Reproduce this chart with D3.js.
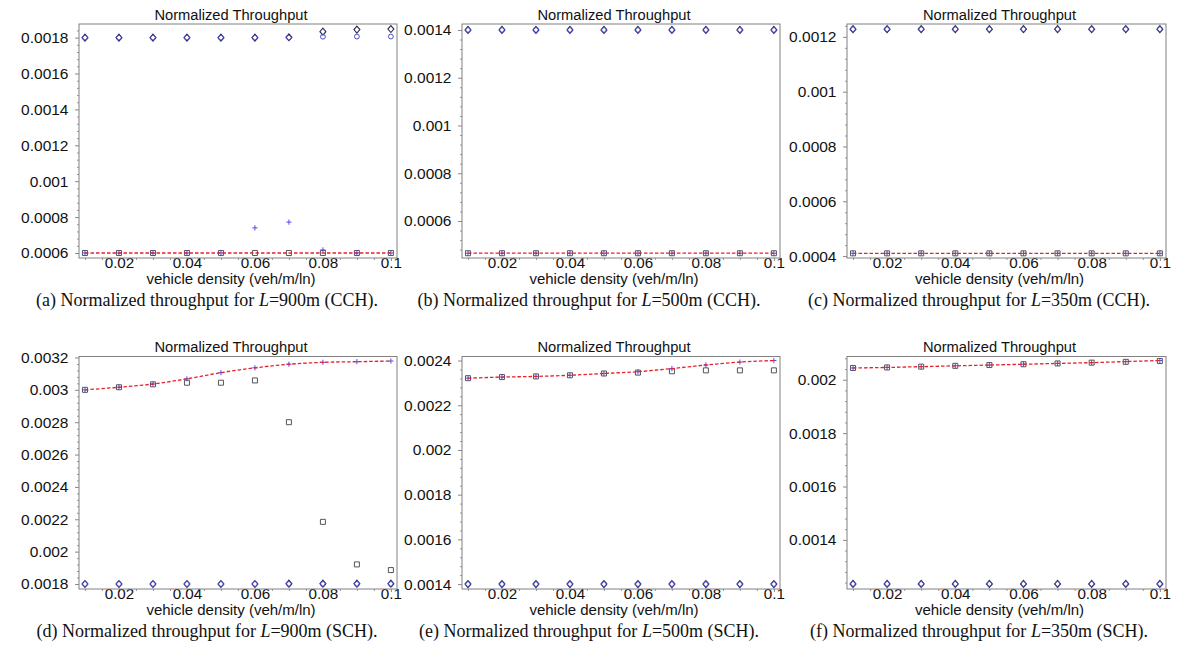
<!DOCTYPE html>
<html>
<head>
<meta charset="utf-8">
<script src="https://cdn.jsdelivr.net/npm/d3@7"></script>
<style>
  html, body { margin: 0; padding: 0; background: #fff; }
  svg { display: block; }
</style>
</head>
<body>
<svg id="chart" width="1200" height="672"></svg>
<script>
// ---------------- DATA ----------------
const density = [0.01, 0.02, 0.03, 0.04, 0.05, 0.06, 0.07, 0.08, 0.09, 0.1];
const xTicks = [0.02, 0.04, 0.06, 0.08, 0.1];

// (a) L=900m CCH
const a_simUpper = [0.0018, 0.0018, 0.0018, 0.0018, 0.0018, 0.0018, 0.001802, 0.001833, 0.001845, 0.001848];
const a_anaUpper = [0.0018, 0.0018, 0.0018, 0.0018, 0.0018, 0.0018, 0.0018, 0.001805, 0.001806, 0.001806];
const a_simLower = [0.0006, 0.0006, 0.0006, 0.0006, 0.0006, 0.0006, 0.0006, 0.0006, 0.0006, 0.0006];
const a_anaLower = [0.0006, 0.0006, 0.0006, 0.0006, 0.0006, 0.00074, 0.000772, 0.000617, 0.0006, 0.0006];
const a_model    = [0.0006, 0.0006, 0.0006, 0.0006, 0.0006, 0.0006, 0.0006, 0.0006, 0.0006, 0.0006];
const a_yTicks = [0.0006, 0.0008, 0.001, 0.0012, 0.0014, 0.0016, 0.0018];

// (b) L=500m CCH
const b_simUpper = [0.0014, 0.0014, 0.0014, 0.0014, 0.0014, 0.0014, 0.0014, 0.0014, 0.0014, 0.0014];
const b_anaUpper = [0.0014, 0.0014, 0.0014, 0.0014, 0.0014, 0.0014, 0.0014, 0.0014, 0.0014, 0.0014];
const b_simLower = [0.000465, 0.000465, 0.000465, 0.000465, 0.000465, 0.000465, 0.000465, 0.000465, 0.000465, 0.000465];
const b_anaLower = [0.000465, 0.000465, 0.000465, 0.000465, 0.000465, 0.000465, 0.000465, 0.000465, 0.000465, 0.000465];
const b_model    = [0.000465, 0.000465, 0.000465, 0.000465, 0.000465, 0.000465, 0.000465, 0.000465, 0.000465, 0.000465];
const b_yTicks = [0.0006, 0.0008, 0.001, 0.0012, 0.0014];

// (c) L=350m CCH
const c_simUpper = [0.001228, 0.001228, 0.001228, 0.001228, 0.001228, 0.001228, 0.001228, 0.001228, 0.001228, 0.001228];
const c_anaUpper = [0.001228, 0.001228, 0.001228, 0.001228, 0.001228, 0.001228, 0.001228, 0.001228, 0.001228, 0.001228];
const c_simLower = [0.00041, 0.00041, 0.00041, 0.00041, 0.00041, 0.00041, 0.00041, 0.00041, 0.00041, 0.00041];
const c_anaLower = [0.00041, 0.00041, 0.00041, 0.00041, 0.00041, 0.00041, 0.00041, 0.00041, 0.00041, 0.00041];
const c_model    = [0.00041, 0.00041, 0.00041, 0.00041, 0.00041, 0.00041, 0.00041, 0.00041, 0.00041, 0.00041];
const c_yTicks = [0.0004, 0.0006, 0.0008, 0.001, 0.0012];

// (d) L=900m SCH
const d_simUpper = [0.003, 0.003016, 0.003034, 0.003044, 0.003044, 0.003058, 0.0028, 0.002184, 0.001921, 0.001886];
const d_anaUpper = [0.003, 0.003016, 0.003036, 0.003068, 0.003106, 0.003136, 0.003158, 0.00317, 0.003174, 0.003178];
const d_simLower = [0.0018, 0.0018, 0.0018, 0.0018, 0.0018, 0.0018, 0.001802, 0.001802, 0.001802, 0.001802];
const d_anaLower = [0.0018, 0.0018, 0.0018, 0.0018, 0.0018, 0.0018, 0.0018, 0.0018, 0.0018, 0.0018];
const d_model    = [0.003, 0.003016, 0.003036, 0.003068, 0.003106, 0.003136, 0.003158, 0.00317, 0.003174, 0.003178];
const d_yTicks = [0.0018, 0.002, 0.0022, 0.0024, 0.0026, 0.0028, 0.003, 0.0032];

// (e) L=500m SCH
const e_simUpper = [0.002321, 0.002326, 0.002329, 0.002334, 0.002342, 0.002346, 0.002352, 0.002356, 0.002356, 0.002356];
const e_anaUpper = [0.002321, 0.002326, 0.002329, 0.002334, 0.002342, 0.00235, 0.002364, 0.00238, 0.002393, 0.0024];
const e_simLower = [0.0014, 0.0014, 0.0014, 0.0014, 0.0014, 0.0014, 0.0014, 0.0014, 0.0014, 0.0014];
const e_anaLower = [0.0014, 0.0014, 0.0014, 0.0014, 0.0014, 0.0014, 0.0014, 0.0014, 0.0014, 0.0014];
const e_model    = [0.002321, 0.002326, 0.002329, 0.002334, 0.002342, 0.00235, 0.002364, 0.00238, 0.002393, 0.0024];
const e_yTicks = [0.0014, 0.0016, 0.0018, 0.002, 0.0022, 0.0024];

// (f) L=350m SCH
const f_simUpper = [0.002044, 0.002046, 0.002049, 0.002052, 0.002055, 0.002058, 0.002061, 0.002064, 0.002067, 0.00207];
const f_anaUpper = [0.002044, 0.002046, 0.002049, 0.002052, 0.002055, 0.002058, 0.002061, 0.002064, 0.002068, 0.002072];
const f_simLower = [0.001235, 0.001235, 0.001235, 0.001235, 0.001235, 0.001235, 0.001235, 0.001235, 0.001235, 0.001235];
const f_anaLower = [0.001235, 0.001235, 0.001235, 0.001235, 0.001235, 0.001235, 0.001235, 0.001235, 0.001235, 0.001235];
const f_model    = [0.002044, 0.002046, 0.002049, 0.002052, 0.002055, 0.002058, 0.002061, 0.002064, 0.002068, 0.002072];
const f_yTicks = [0.0014, 0.0016, 0.0018, 0.002];

const panelTitle = "Normalized Throughput";
const xLabel = "vehicle density (veh/m/ln)";
const captionLabels = ["(a)", "(b)", "(c)", "(d)", "(e)", "(f)"];
const captionLengths = ["900m", "500m", "350m", "900m", "500m", "350m"];
const captionSchemes = ["CCH", "CCH", "CCH", "SCH", "SCH", "SCH"];

// ---------------- LAYOUT ----------------
const svg = d3.select("#chart");
const SANS = "'Liberation Sans', Arial, Helvetica, sans-serif";
const SERIF = "'Liberation Serif', 'Times New Roman', serif";

const cols = [{l: 79, r: 397, cap: 207}, {l: 462, r: 780, cap: 589}, {l: 847, r: 1166, cap: 979}];
const rows = [{t: 24, b: 258}, {t: 356.5, b: 589}];

const panels = [
  {col: 0, row: 0, y: [0.000572, 0.001876], ticks: a_yTicks, su: a_simUpper, au: a_anaUpper, sl: a_simLower, al: a_anaLower, m: a_model, model: "lower"},
  {col: 1, row: 0, y: [0.000445, 0.001425], ticks: b_yTicks, su: b_simUpper, au: b_anaUpper, sl: b_simLower, al: b_anaLower, m: b_model, model: "lower"},
  {col: 2, row: 0, y: [0.000393, 0.001247], ticks: c_yTicks, su: c_simUpper, au: c_anaUpper, sl: c_simLower, al: c_anaLower, m: c_model, model: "lower"},
  {col: 0, row: 1, y: [0.001769, 0.003206], ticks: d_yTicks, su: d_simUpper, au: d_anaUpper, sl: d_simLower, al: d_anaLower, m: d_model, model: "upper"},
  {col: 1, row: 1, y: [0.001378, 0.002418], ticks: e_yTicks, su: e_simUpper, au: e_anaUpper, sl: e_simLower, al: e_anaLower, m: e_model, model: "upper"},
  {col: 2, row: 1, y: [0.001216, 0.002087], ticks: f_yTicks, su: f_simUpper, au: f_anaUpper, sl: f_simLower, al: f_anaLower, m: f_model, model: "upper"}
];

const fmt = d3.format("~g");

const diamondPath = "M0,-3.5L3,0L0,3.5L-3,0Z";
const squarePath = "M-2.5,-2.5H2.5V2.5H-2.5Z";
const plusPath = "M-2.6,0H2.6M0,-2.6V2.6";

panels.forEach((p, i) => {
  const c = cols[p.col], r = rows[p.row];
  const x = d3.scaleLinear().domain([0.00824, 0.1018]).range([c.l, c.r]);
  const y = d3.scaleLinear().domain(p.y).range([r.b, r.t]);
  const g = svg.append("g");

  // y axis
  const step = p.ticks[1] - p.ticks[0];
  const minorY = [];
  for (let k = -6; k <= p.ticks.length * 5 + 6; k++) {
    const v = p.ticks[0] + k * step / 5;
    if (v >= p.y[0] && v <= p.y[1] && k % 5 !== 0) minorY.push(v);
  }
  const yAxis = g.append("g").attr("transform", `translate(${c.l},0)`)
    .call(d3.axisLeft(y).tickValues(p.ticks).tickFormat(fmt).tickSize(4).tickPadding(6.5));
  yAxis.select(".domain").remove();
  yAxis.selectAll("line").attr("stroke", "#888");
  yAxis.selectAll("text").attr("font-family", SANS).attr("font-size", 15.5).attr("fill", "#111");
  const yMinor = g.append("g").attr("transform", `translate(${c.l},0)`)
    .call(d3.axisLeft(y).tickValues(minorY).tickFormat("").tickSize(2));
  yMinor.select(".domain").remove();
  yMinor.selectAll("line").attr("stroke", "#999");

  // x axis: labels close to the frame, short outward ticks
  const minorX = [];
  for (let k = 1; k < 21; k++) { const v = k * 0.005; if (xTicks.indexOf(+v.toFixed(3)) < 0 && v >= 0.00824 && v <= 0.1018) minorX.push(v); }
  const xAxis = g.append("g").attr("transform", `translate(0,${r.b})`)
    .call(d3.axisBottom(x).tickValues(xTicks).tickFormat(fmt).tickSize(3).tickPadding(-3.6));
  xAxis.select(".domain").remove();
  xAxis.selectAll("line").attr("stroke", "#888");
  xAxis.selectAll("text").attr("font-family", SANS).attr("font-size", 15.2).attr("fill", "#111");
  const xMinor = g.append("g").attr("transform", `translate(0,${r.b})`)
    .call(d3.axisBottom(x).tickValues(minorX).tickFormat("").tickSize(2));
  xMinor.select(".domain").remove();
  xMinor.selectAll("line").attr("stroke", "#999");

  // frame
  g.append("rect").attr("x", c.l).attr("y", r.t).attr("width", c.r - c.l).attr("height", r.b - r.t)
    .attr("fill", "none").attr("stroke", "#808080").attr("stroke-width", 1);

  // title
  g.append("text").attr("x", (c.l + c.r) / 2 - 7).attr("y", r.t - 4.5).attr("text-anchor", "middle")
    .attr("font-family", SANS).attr("font-size", 14.7).attr("fill", "#111").text(panelTitle);
  // x label
  g.append("text").attr("x", (c.l + c.r) / 2 - 7).attr("y", r.b + 26).attr("text-anchor", "middle")
    .attr("font-family", SANS).attr("font-size", 15).attr("fill", "#111").text(xLabel);

  // caption
  const cap = g.append("text").attr("x", c.cap).attr("y", r.b + 47.8).attr("text-anchor", "middle")
    .attr("font-family", SERIF).attr("font-size", 18).attr("fill", "#111");
  cap.append("tspan").text(captionLabels[i] + " Normalized throughput for ");
  cap.append("tspan").attr("font-style", "italic").text("L");
  cap.append("tspan").text("=" + captionLengths[i] + " (" + captionSchemes[i] + ").");

  const pts = (arr) => density.map((d, k) => [d, arr[k]]);

  const curveSim = p.model === "lower" ? p.sl : p.su;
  const curveAna = p.model === "lower" ? p.al : p.au;
  const markSim = p.model === "lower" ? p.su : p.sl;
  const markAna = p.model === "lower" ? p.au : p.al;

  g.append("g").selectAll("path").data(pts(curveSim)).join("path")
    .attr("d", squarePath).attr("transform", d => `translate(${x(d[0])},${y(d[1])})`)
    .attr("fill", "none").attr("stroke", "#555").attr("stroke-width", 1);
  g.append("g").selectAll("path").data(pts(curveAna)).join("path")
    .attr("d", plusPath).attr("transform", d => `translate(${x(d[0])},${y(d[1])})`)
    .attr("fill", "none").attr("stroke", "#5a4ae8").attr("stroke-width", 1);
  g.append("path").datum(pts(p.m))
    .attr("d", d3.line().x(d => x(d[0])).y(d => y(d[1])).curve(d3.curveMonotoneX))
    .attr("fill", "none").attr("stroke", "#e8202a").attr("stroke-width", 1.3).attr("stroke-dasharray", "3.5,2");

  g.append("g").selectAll("path").data(pts(markSim)).join("path")
    .attr("d", diamondPath).attr("transform", d => `translate(${x(d[0])},${y(d[1])})`)
    .attr("fill", "none").attr("stroke", "#2a2a55").attr("stroke-width", 1.1);
  g.append("g").selectAll("circle").data(pts(markAna)).join("circle")
    .attr("cx", d => x(d[0])).attr("cy", d => y(d[1])).attr("r", 2.4)
    .attr("fill", "none").attr("stroke", "#4a4ad0").attr("stroke-width", 1);
});
</script>
</body>
</html>
